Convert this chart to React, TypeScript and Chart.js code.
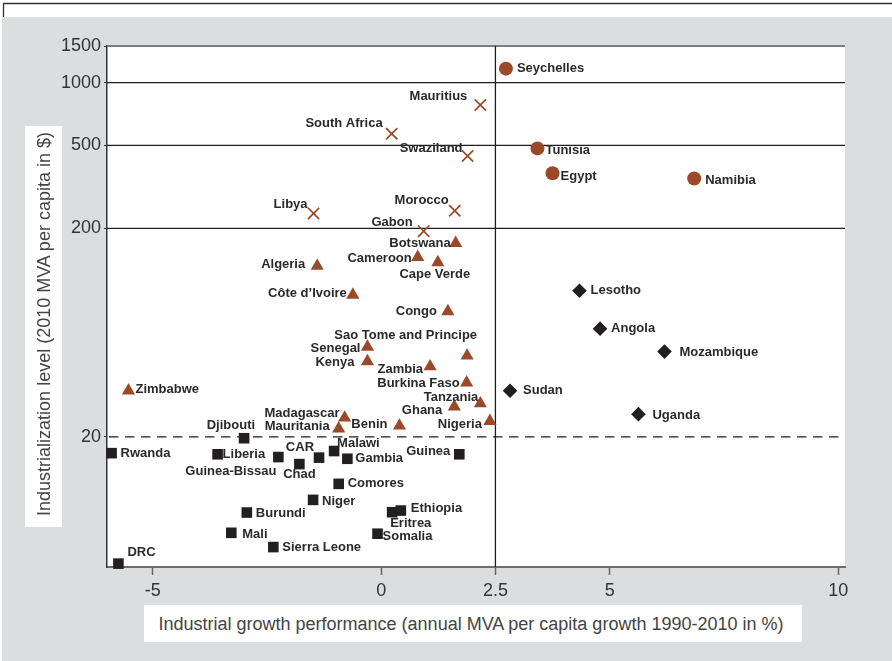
import { useEffect, useRef } from "react";
import { Chart, registerables } from "chart.js";

Chart.register(...registerables);

// ---------- data ----------
const circleNames = ["Seychelles", "Tunisia", "Egypt", "Namibia"];
const circleX = [2.73, 3.42, 3.75, 6.85];
const circleY = [1168, 484, 368, 347];

const crossNames = ["Mauritius", "South Africa", "Swaziland", "Libya", "Morocco", "Gabon"];
const crossX = [2.17, 0.23, 1.89, -1.48, 1.61, 0.93];
const crossY = [782, 569, 445, 236, 243, 194];

const triangleNames = [
  "Botswana", "Cameroon", "Cape Verde", "Algeria", "Côte d’Ivoire", "Congo",
  "Senegal", "Sao Tome and Principe", "Kenya", "Zambia", "Burkina Faso", "Tanzania",
  "Ghana", "Nigeria", "Madagascar", "Mauritania", "Benin", "Zimbabwe",
];
const triangleX = [1.63, 0.8, 1.24, -1.4, -0.62, 1.46, -0.3, 1.88, -0.3, 1.07, 1.87, 2.17, 1.6, 2.38, -0.8, -0.93, 0.4, -5.53];
const triangleY = [170, 145.5, 137.5, 132, 96, 80, 54, 49, 46, 43.5, 36.4, 28.9, 27.9, 23.8, 24.7, 21.9, 22.6, 33.3];

const diamondNames = ["Lesotho", "Angola", "Mozambique", "Sudan", "Uganda"];
const diamondX = [4.34, 4.79, 6.2, 2.82, 5.63];
const diamondY = [100.4, 66.1, 51.3, 33.3, 25.7];

const squareNames = [
  "Djibouti", "Rwanda", "Liberia", "Guinea-Bissau", "CAR", "Chad", "Malawi", "Gambia", "Guinea",
  "Comores", "Niger", "Burundi", "Eritrea", "Ethiopia", "Mali", "Somalia", "Sierra Leone", "DRC",
];
const squareX = [-3.0, -5.9, -3.58, -2.25, -1.36, -1.79, -1.03, -0.74, 1.71, -0.93, -1.49, -2.94, 0.24, 0.43, -3.28, -0.08, -2.36, -5.75];
const squareY = [19.7, 16.7, 16.5, 16.0, 15.9, 14.8, 17.1, 15.7, 16.5, 11.9, 9.97, 8.67, 8.7, 8.86, 6.93, 6.86, 5.92, 4.93];

const xTicks = [-5, 0, 2.5, 5, 10];
const yTicks = [20, 200, 500, 1000, 1500];
const solidLevels = [200, 500, 1000];
const dashedLevels = [20];
const verticalLevels = [2.5];

const xTitle = "Industrial growth performance (annual MVA per capita growth 1990-2010 in %)";
const yTitle = "Industrialization level (2010 MVA per capita in $)";

// ---------- label placement (layout only) ----------
type Place = [number, number, CanvasTextAlign];
const labelPlace: Record<string, Place> = {
  Seychelles: [11, 0, "left"],
  Tunisia: [8, 2, "left"],
  Egypt: [8, 3, "left"],
  Namibia: [11, 2, "left"],
  Mauritius: [-13, -9, "right"],
  "South Africa": [-9, -10, "right"],
  Swaziland: [-5, -8, "right"],
  Libya: [-6, -9, "right"],
  Morocco: [-6, -10, "right"],
  Gabon: [-11, -9, "right"],
  Botswana: [-5, 0.5, "right"],
  Cameroon: [-6, 1.5, "right"],
  "Cape Verde": [-3, 12.5, "center"],
  Algeria: [-12, -1.5, "right"],
  "Côte d’Ivoire": [-6, -1.5, "right"],
  Congo: [-11, 0.5, "right"],
  Senegal: [-7, 1.5, "right"],
  "Sao Tome and Principe": [10, -20.5, "right"],
  Kenya: [-13, 0.5, "right"],
  Zambia: [-7, 2.5, "right"],
  "Burkina Faso": [-7, 0.5, "right"],
  Tanzania: [-2, -6.5, "right"],
  Ghana: [-12, 3.5, "right"],
  Nigeria: [-8, 3.5, "right"],
  Madagascar: [-5, -4.5, "right"],
  Mauritania: [-9, -2.5, "right"],
  Benin: [-12, -1.5, "right"],
  Zimbabwe: [7, -1.5, "left"],
  Lesotho: [11, 0, "left"],
  Angola: [11, 0, "left"],
  Mozambique: [15, 1, "left"],
  Sudan: [13, 0, "left"],
  Uganda: [14, 1, "left"],
  Djibouti: [11, -13, "right"],
  Rwanda: [9, 0, "left"],
  Liberia: [5, 0, "left"],
  "Guinea-Bissau": [-2, 14, "right"],
  CAR: [-5, -10, "right"],
  Chad: [0, 10, "center"],
  Malawi: [3, -8, "left"],
  Gambia: [8, 0, "left"],
  Guinea: [-9, -3, "right"],
  Comores: [9, 0, "left"],
  Niger: [9, 2, "left"],
  Burundi: [9, 1, "left"],
  Eritrea: [-2, 11, "left"],
  Ethiopia: [10, -2, "left"],
  Mali: [11, 2, "left"],
  Somalia: [5, 3, "left"],
  "Sierra Leone": [9, 0, "left"],
  DRC: [9, -11, "left"],
};

const FONT = "'Liberation Sans', Arial, Helvetica, sans-serif";
const BROWN = "#9a4a2b";
const BLACK = "#231f20";

function pts(names: string[], xs: number[], ys: number[]) {
  return names.map((n, i) => ({ x: xs[i], y: ys[i], name: n }));
}

const decorPlugin = {
  id: "decor",
  beforeDraw(chart: any) {
    const { ctx, chartArea: a, width, height } = chart;
    ctx.save();
    ctx.fillStyle = "#ffffff";
    ctx.fillRect(0, 0, width, height);
    ctx.fillStyle = "#dcdddf";
    ctx.fillRect(2, 17, width - 2, height - 17);
    ctx.strokeStyle = "#333";
    ctx.lineWidth = 1.3;
    ctx.beginPath();
    ctx.moveTo(3.5, 17);
    ctx.lineTo(3.5, 3.5);
    ctx.lineTo(width, 3.5);
    ctx.stroke();
    ctx.fillStyle = "#ffffff";
    ctx.fillRect(a.left, a.top, a.right - a.left, a.bottom - a.top);
    ctx.restore();
  },
  beforeDatasetsDraw(chart: any) {
    const { ctx, chartArea: a, scales } = chart;
    const xs = scales.x;
    const ys = scales.y;
    ctx.save();
    ctx.strokeStyle = "#7d7d7d";
    ctx.lineWidth = 2;
    ctx.beginPath();
    ctx.moveTo(a.left, a.top);
    ctx.lineTo(a.right, a.top);
    ctx.stroke();

    ctx.strokeStyle = "#1e1e1e";
    ctx.lineWidth = 1.3;
    solidLevels.forEach((v) => {
      const py = ys.getPixelForValue(v);
      ctx.beginPath();
      ctx.moveTo(a.left, py);
      ctx.lineTo(a.right, py);
      ctx.stroke();
    });
    verticalLevels.forEach((v) => {
      const px = xs.getPixelForValue(v);
      ctx.beginPath();
      ctx.moveTo(px, a.top);
      ctx.lineTo(px, a.bottom);
      ctx.stroke();
    });
    ctx.setLineDash([9.5, 6.5]);
    dashedLevels.forEach((v) => {
      const py = ys.getPixelForValue(v);
      ctx.beginPath();
      ctx.moveTo(a.left + 2, py);
      ctx.lineTo(a.right, py);
      ctx.stroke();
    });
    ctx.restore();
  },
  afterDatasetsDraw(chart: any) {
    const { ctx } = chart;
    ctx.save();
    ctx.font = `bold 13px ${FONT}`;
    ctx.fillStyle = "#2a2a2a";
    ctx.textBaseline = "middle";
    chart.data.datasets.forEach((ds: any, di: number) => {
      const meta = chart.getDatasetMeta(di);
      ds.data.forEach((d: any, i: number) => {
        const el = meta.data[i];
        const p = labelPlace[d.name] || [9, 0, "left"];
        ctx.textAlign = p[2];
        ctx.fillText(d.name, el.x + p[0], el.y + p[1]);
      });
    });
    ctx.restore();
  },
};

export default function App() {
  const ref = useRef<HTMLCanvasElement>(null);

  useEffect(() => {
    if (!ref.current) return;
    const chart = new Chart(ref.current, {
      type: "scatter",
      data: {
        datasets: [
          {
            data: pts(circleNames, circleX, circleY),
            pointStyle: "circle",
            pointRadius: 7,
            backgroundColor: BROWN,
            borderColor: BROWN,
            borderWidth: 0,
            clip: false,
          } as any,
          {
            data: pts(crossNames, crossX, crossY),
            pointStyle: "crossRot",
            pointRadius: 8,
            backgroundColor: BROWN,
            borderColor: BROWN,
            borderWidth: 1.7,
            clip: false,
          },
          {
            data: pts(triangleNames, triangleX, triangleY),
            pointStyle: "triangle",
            pointRadius: 7.6,
            backgroundColor: BROWN,
            borderColor: BROWN,
            borderWidth: 0,
            clip: false,
          },
          {
            data: pts(diamondNames, diamondX, diamondY),
            pointStyle: "rectRot",
            pointRadius: 7.3,
            backgroundColor: BLACK,
            borderColor: BLACK,
            borderWidth: 0,
            clip: false,
          },
          {
            data: pts(squareNames, squareX, squareY),
            pointStyle: "rect",
            pointRadius: 7.5,
            backgroundColor: BLACK,
            borderColor: BLACK,
            borderWidth: 0,
            clip: false,
          },
        ],
      },
      options: {
        animation: false,
        responsive: false,
        events: [],
        layout: { padding: { left: 0, top: 46, right: 47, bottom: 0 } },
        plugins: { legend: { display: false }, tooltip: { enabled: false } },
        scales: {
          x: {
            type: "linear",
            min: -6,
            max: 10.15,
            afterBuildTicks: (s: any) => {
              s.ticks = xTicks.map((v) => ({ value: v }));
            },
            afterFit: (s: any) => {
              s.height = 94;
            },
            ticks: {
              callback: (v: any) => String(v),
              color: "#333",
              font: { family: FONT, size: 18 },
              padding: 5,
              autoSkip: false,
              maxRotation: 0,
            },
            grid: { drawOnChartArea: false, tickLength: 8, tickColor: "#666", tickWidth: 1.5 },
            border: { color: "#6d6d6d", width: 2 },
          },
          y: {
            type: "logarithmic",
            min: 4.75,
            max: 1500,
            afterBuildTicks: (s: any) => {
              s.ticks = yTicks.map((v) => ({ value: v }));
            },
            afterFit: (s: any) => {
              s.width = 107;
            },
            ticks: {
              callback: (v: any) => String(v),
              color: "#333",
              font: { family: FONT, size: 18 },
              padding: 3,
              autoSkip: false,
            },
            grid: { drawOnChartArea: false, tickLength: 3, tickColor: "#333", tickWidth: 1 },
            border: { color: "#333", width: 1.5 },
          },
        },
      },
      plugins: [decorPlugin],
    });
    return () => chart.destroy();
  }, []);

  return (
    <div style={{ position: "absolute", left: 0, top: 0, width: 892, height: 661, overflow: "hidden" }}>
      <canvas ref={ref} width={892} height={661} style={{ display: "block", width: 892, height: 661 }} />
      <div style={{ position: "absolute", left: 25, top: 126, width: 37, height: 401, background: "#fff" }} />
      <div
        style={{
          position: "absolute",
          left: 44 - 200,
          top: 324 - 11,
          width: 400,
          height: 22,
          lineHeight: "22px",
          textAlign: "center",
          whiteSpace: "nowrap",
          transform: "rotate(-90deg)",
          fontFamily: FONT,
          fontSize: 18,
          color: "#444",
        }}
      >
        {yTitle}
      </div>
      <div
        style={{
          position: "absolute",
          left: 144,
          top: 605,
          width: 658,
          height: 37,
          background: "#fff",
          lineHeight: "37px",
          textAlign: "center",
          whiteSpace: "nowrap",
          fontFamily: FONT,
          fontSize: 18,
          color: "#444",
        }}
      >
        <span style={{ position: "relative", left: -2, top: 1 }}>{xTitle}</span>
      </div>
    </div>
  );
}
